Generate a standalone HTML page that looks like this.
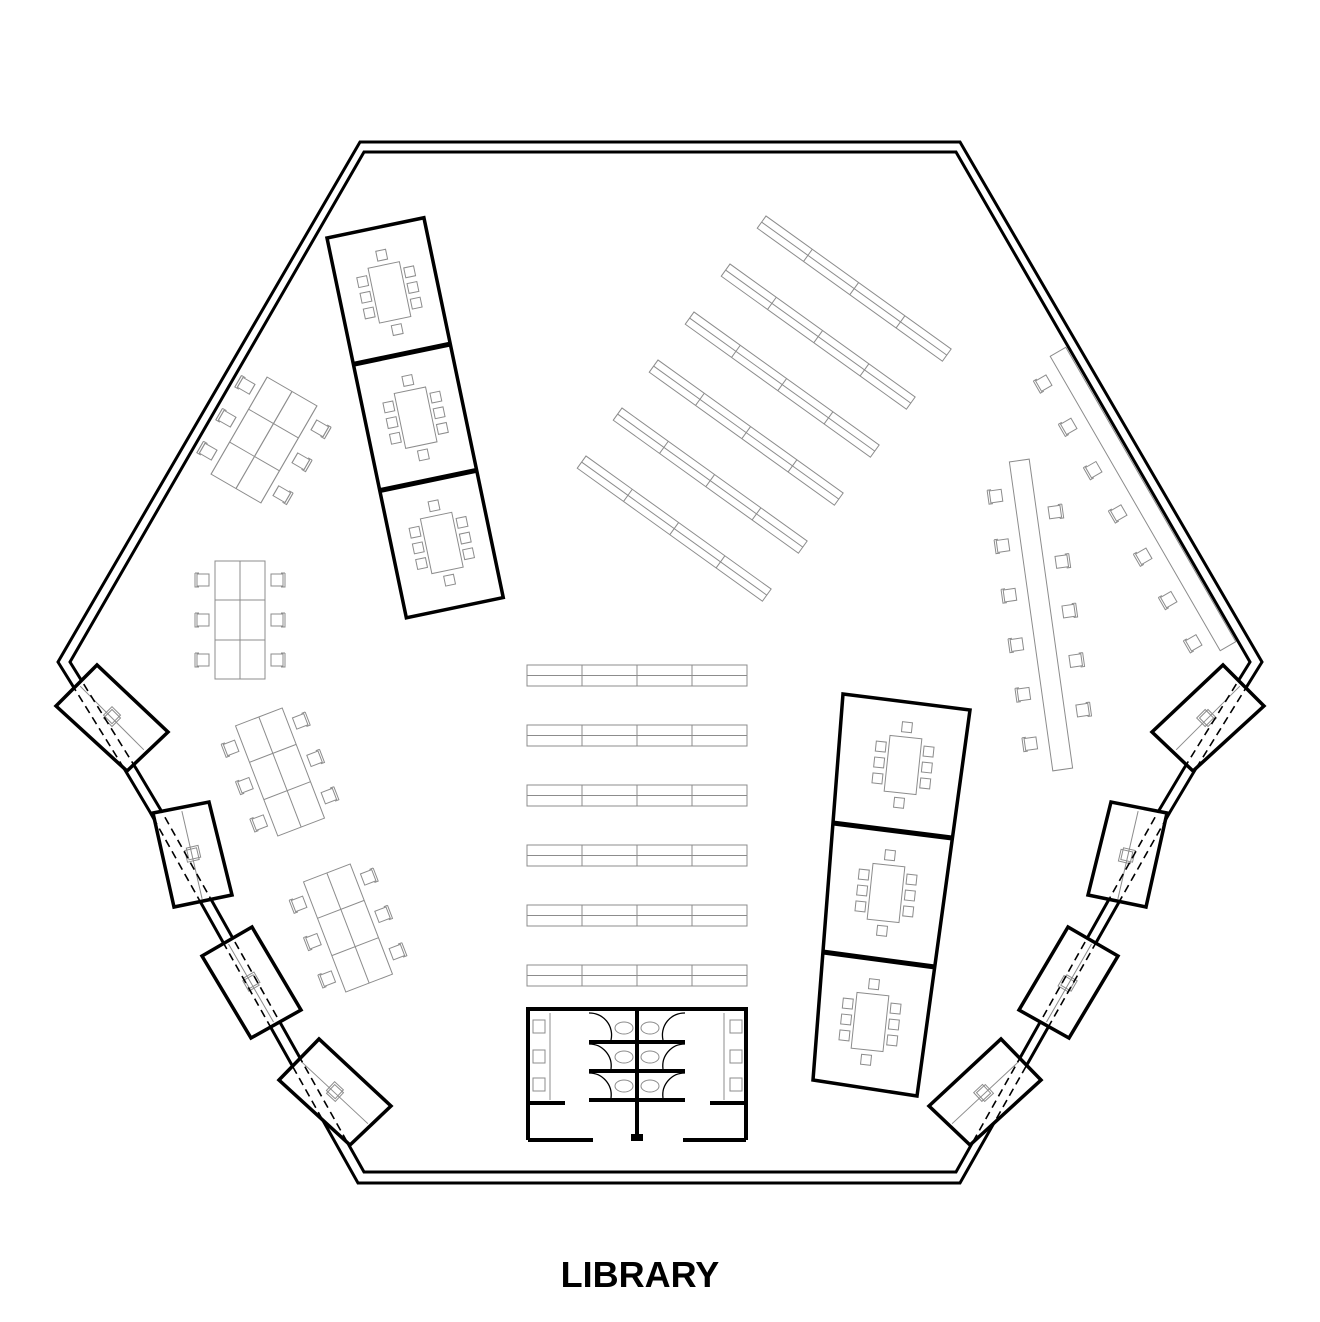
<!DOCTYPE html>
<html><head><meta charset="utf-8"><style>
html,body{margin:0;padding:0;background:#fff;}
svg{display:block}
</style></head><body>
<svg width="1320" height="1322" viewBox="0 0 1320 1322" xmlns="http://www.w3.org/2000/svg">
<defs>
<g id="ch"><rect x="-6" y="-6" width="12" height="12" fill="#fff" stroke="#8c8c8c" stroke-width="1"/><path d="M-8,-7 h4 M-8,-7 v14 h4" fill="none" stroke="#8c8c8c" stroke-width="1"/></g>
<g id="sq"><rect x="-5" y="-5" width="10" height="10" fill="none" stroke="#8c8c8c" stroke-width="1"/></g>
<g id="shelf"><rect x="0" y="0" width="220" height="21" fill="none" stroke="#8c8c8c"/><line x1="0" y1="10.5" x2="220" y2="10.5" stroke="#8c8c8c"/><line x1="55" y1="0" x2="55" y2="21" stroke="#8c8c8c"/><line x1="110" y1="0" x2="110" y2="21" stroke="#8c8c8c"/><line x1="165" y1="0" x2="165" y2="21" stroke="#8c8c8c"/></g>
<g id="dshelf"><rect x="0" y="0" width="228" height="15" fill="none" stroke="#8c8c8c"/><line x1="0" y1="7.5" x2="228" y2="7.5" stroke="#8c8c8c"/><line x1="57" y1="0" x2="57" y2="15" stroke="#8c8c8c"/><line x1="114" y1="0" x2="114" y2="15" stroke="#8c8c8c"/><line x1="171" y1="0" x2="171" y2="15" stroke="#8c8c8c"/></g>
<g id="mtg"><rect x="-16" y="-28" width="32" height="56" fill="none" stroke="#8c8c8c"/>
<use href="#sq" x="-24" y="-16"/><use href="#sq" x="-24" y="0"/><use href="#sq" x="-24" y="16"/>
<use href="#sq" x="24" y="-16"/><use href="#sq" x="24" y="0"/><use href="#sq" x="24" y="16"/>
<use href="#sq" x="0" y="-38"/><use href="#sq" x="0" y="38"/></g>
<g id="tbl"><rect x="-25" y="-59" width="50" height="118" fill="none" stroke="#8c8c8c"/><line x1="0" y1="-59" x2="0" y2="59" stroke="#8c8c8c"/><line x1="-25" y1="-20" x2="25" y2="-20" stroke="#8c8c8c"/><line x1="-25" y1="20" x2="25" y2="20" stroke="#8c8c8c"/>
<use href="#ch" x="-37" y="-40"/><use href="#ch" x="-37" y="0"/><use href="#ch" x="-37" y="40"/>
<g transform="scale(-1,1)"><use href="#ch" x="-37" y="-40"/><use href="#ch" x="-37" y="0"/><use href="#ch" x="-37" y="40"/></g></g>
<g id="podin"><line x1="-45" y1="0" x2="45" y2="0" stroke="#8c8c8c"/><rect x="-6" y="-6" width="12" height="12" fill="none" stroke="#8c8c8c"/><rect x="-8" y="-8" width="12" height="12" fill="none" stroke="#8c8c8c"/></g>
</defs>

<g fill="none" stroke="#000" stroke-width="3" stroke-linejoin="miter">
<polygon points="360,142 960,142 1262,662 1195,770 1170,812 960,1183 358,1183 150,812 125,770 58,662"/>
<polygon points="364,152 956,152 1250,662 1183,770 1158,812 956,1172 364,1172 162,812 137,770 70,662"/>
</g>

<g fill="#fff" stroke="#000" stroke-width="3.5">
<polygon points="56,706 97,665 168,732 127,771"/>
<polygon points="153,813 209,802 232,895 174,907"/>
<polygon points="202,956 252,927 301,1010 251,1038"/>
<polygon points="279,1080 319,1039 391,1106 350,1145"/>
<polygon points="1264,706 1223,665 1152,732 1193,771"/>
<polygon points="1167,813 1111,802 1088,895 1146,907"/>
<polygon points="1118,956 1068,927 1019,1010 1069,1038"/>
<polygon points="1041,1080 1001,1039 929,1106 970,1145"/>
</g>
<g>
<use href="#podin" transform="translate(112,718) rotate(45)"/>
<use href="#podin" transform="translate(192,855) rotate(77)"/>
<use href="#podin" transform="translate(251,983) rotate(60)"/>
<use href="#podin" transform="translate(335,1093) rotate(43)"/>
<use href="#podin" transform="translate(1208,718) rotate(-45)"/>
<use href="#podin" transform="translate(1128,855) rotate(-77)"/>
<use href="#podin" transform="translate(1069,983) rotate(-60)"/>
<use href="#podin" transform="translate(985,1093) rotate(-43)"/>
</g>
<g fill="none" stroke="#000" stroke-width="1.6" stroke-dasharray="8,5">
<polyline points="58,662 125,770 150,812 358,1183"/>
<polyline points="70,662 137,770 162,812 364,1172"/>
<polyline points="1262,662 1195,770 1170,812 960,1183"/>
<polyline points="1250,662 1183,770 1158,812 956,1172"/>
</g>

<g transform="translate(327,238) rotate(-11.8)">
<rect x="0" y="0" width="99" height="388" fill="none" stroke="#000" stroke-width="3.5"/>
<line x1="0" y1="129" x2="99" y2="129" stroke="#000" stroke-width="5"/>
<line x1="0" y1="258" x2="99" y2="258" stroke="#000" stroke-width="5"/>
<use href="#mtg" x="50" y="66"/><use href="#mtg" x="50" y="194"/><use href="#mtg" x="50" y="322"/>
</g>

<g fill="none" stroke="#000" stroke-width="3.5">
<polygon points="843,694 970,710 917,1096 813,1080"/>
<line x1="833" y1="823" x2="952" y2="838" stroke-width="5"/>
<line x1="823" y1="952" x2="935" y2="967" stroke-width="5"/>
</g>
<use href="#mtg" transform="translate(903,765) rotate(6)"/>
<use href="#mtg" transform="translate(886,893) rotate(6)"/>
<use href="#mtg" transform="translate(870,1022) rotate(6)"/>

<g>
<use href="#dshelf" transform="translate(766,216) rotate(35.7)"/>
<use href="#dshelf" transform="translate(730,264) rotate(35.7)"/>
<use href="#dshelf" transform="translate(694,312) rotate(35.7)"/>
<use href="#dshelf" transform="translate(658,360) rotate(35.7)"/>
<use href="#dshelf" transform="translate(622,408) rotate(35.7)"/>
<use href="#dshelf" transform="translate(586,456) rotate(35.7)"/>
</g>

<use href="#shelf" x="527" y="665"/>
<use href="#shelf" x="527" y="725"/>
<use href="#shelf" x="527" y="785"/>
<use href="#shelf" x="527" y="845"/>
<use href="#shelf" x="527" y="905"/>
<use href="#shelf" x="527" y="965"/>

<use href="#tbl" transform="translate(264,440) rotate(30) scale(1.15,0.95)"/>
<use href="#tbl" transform="translate(240,620)"/>
<use href="#tbl" transform="translate(280,772) rotate(-21)"/>
<use href="#tbl" transform="translate(348,928) rotate(-21)"/>

<g transform="translate(1041,615) rotate(-8)">
<rect x="-10" y="-156" width="20" height="312" fill="none" stroke="#8c8c8c"/>
<use href="#ch" x="-28" y="-124"/><use href="#ch" x="-28" y="-74"/><use href="#ch" x="-28" y="-24"/><use href="#ch" x="-28" y="26"/><use href="#ch" x="-28" y="76"/><use href="#ch" x="-28" y="126"/>
<g transform="scale(-1,1)"><use href="#ch" x="-28" y="-100"/><use href="#ch" x="-28" y="-50"/><use href="#ch" x="-28" y="0"/><use href="#ch" x="-28" y="50"/><use href="#ch" x="-28" y="100"/></g>
</g>
<g transform="translate(1143,499) rotate(-30)">
<rect x="-9" y="-170" width="18" height="340" fill="none" stroke="#8c8c8c"/>
<use href="#ch" x="-28" y="-150"/><use href="#ch" x="-28" y="-100"/><use href="#ch" x="-28" y="-50"/><use href="#ch" x="-28" y="0"/><use href="#ch" x="-28" y="50"/><use href="#ch" x="-28" y="100"/><use href="#ch" x="-28" y="150"/>
</g>

<g fill="none" stroke="#8c8c8c" stroke-width="1">
<line x1="550" y1="1013" x2="550" y2="1100"/><line x1="724" y1="1013" x2="724" y2="1100"/>
<rect x="533" y="1020" width="12" height="13"/><rect x="533" y="1050" width="12" height="13"/><rect x="533" y="1078" width="12" height="13"/>
<rect x="730" y="1020" width="12" height="13"/><rect x="730" y="1050" width="12" height="13"/><rect x="730" y="1078" width="12" height="13"/>
<ellipse cx="624" cy="1028" rx="9" ry="6"/><ellipse cx="650" cy="1028" rx="9" ry="6"/>
<ellipse cx="624" cy="1057" rx="9" ry="6"/><ellipse cx="650" cy="1057" rx="9" ry="6"/>
<ellipse cx="624" cy="1086" rx="9" ry="6"/><ellipse cx="650" cy="1086" rx="9" ry="6"/>
</g>
<g fill="none" stroke="#000" stroke-width="1.3">
<path d="M589,1013 A22,22 0 0 1 611,1040"/><path d="M685,1013 A22,22 0 0 0 663,1040"/>
<path d="M589,1044 A22,22 0 0 1 611,1069"/><path d="M685,1044 A22,22 0 0 0 663,1069"/>
<path d="M589,1073 A22,22 0 0 1 611,1098"/><path d="M685,1073 A22,22 0 0 0 663,1098"/>
</g>
<g fill="none" stroke="#000" stroke-width="4">
<polyline points="528,1140 528,1009 746,1009 746,1140"/>
<line x1="528" y1="1140" x2="593" y2="1140"/>
<line x1="683" y1="1140" x2="746" y2="1140"/>
<line x1="637" y1="1009" x2="637" y2="1140"/>
<line x1="530" y1="1103" x2="565" y2="1103"/>
<line x1="710" y1="1103" x2="745" y2="1103"/>
<line x1="589" y1="1042" x2="685" y2="1042"/>
<line x1="589" y1="1071" x2="685" y2="1071"/>
<line x1="589" y1="1100" x2="685" y2="1100"/>
</g>
<rect x="631" y="1134" width="12" height="7" fill="#000"/>

<text x="640" y="1287" text-anchor="middle" font-family="Liberation Sans, sans-serif" font-weight="bold" font-size="36">LIBRARY</text>
</svg>
</body></html>
